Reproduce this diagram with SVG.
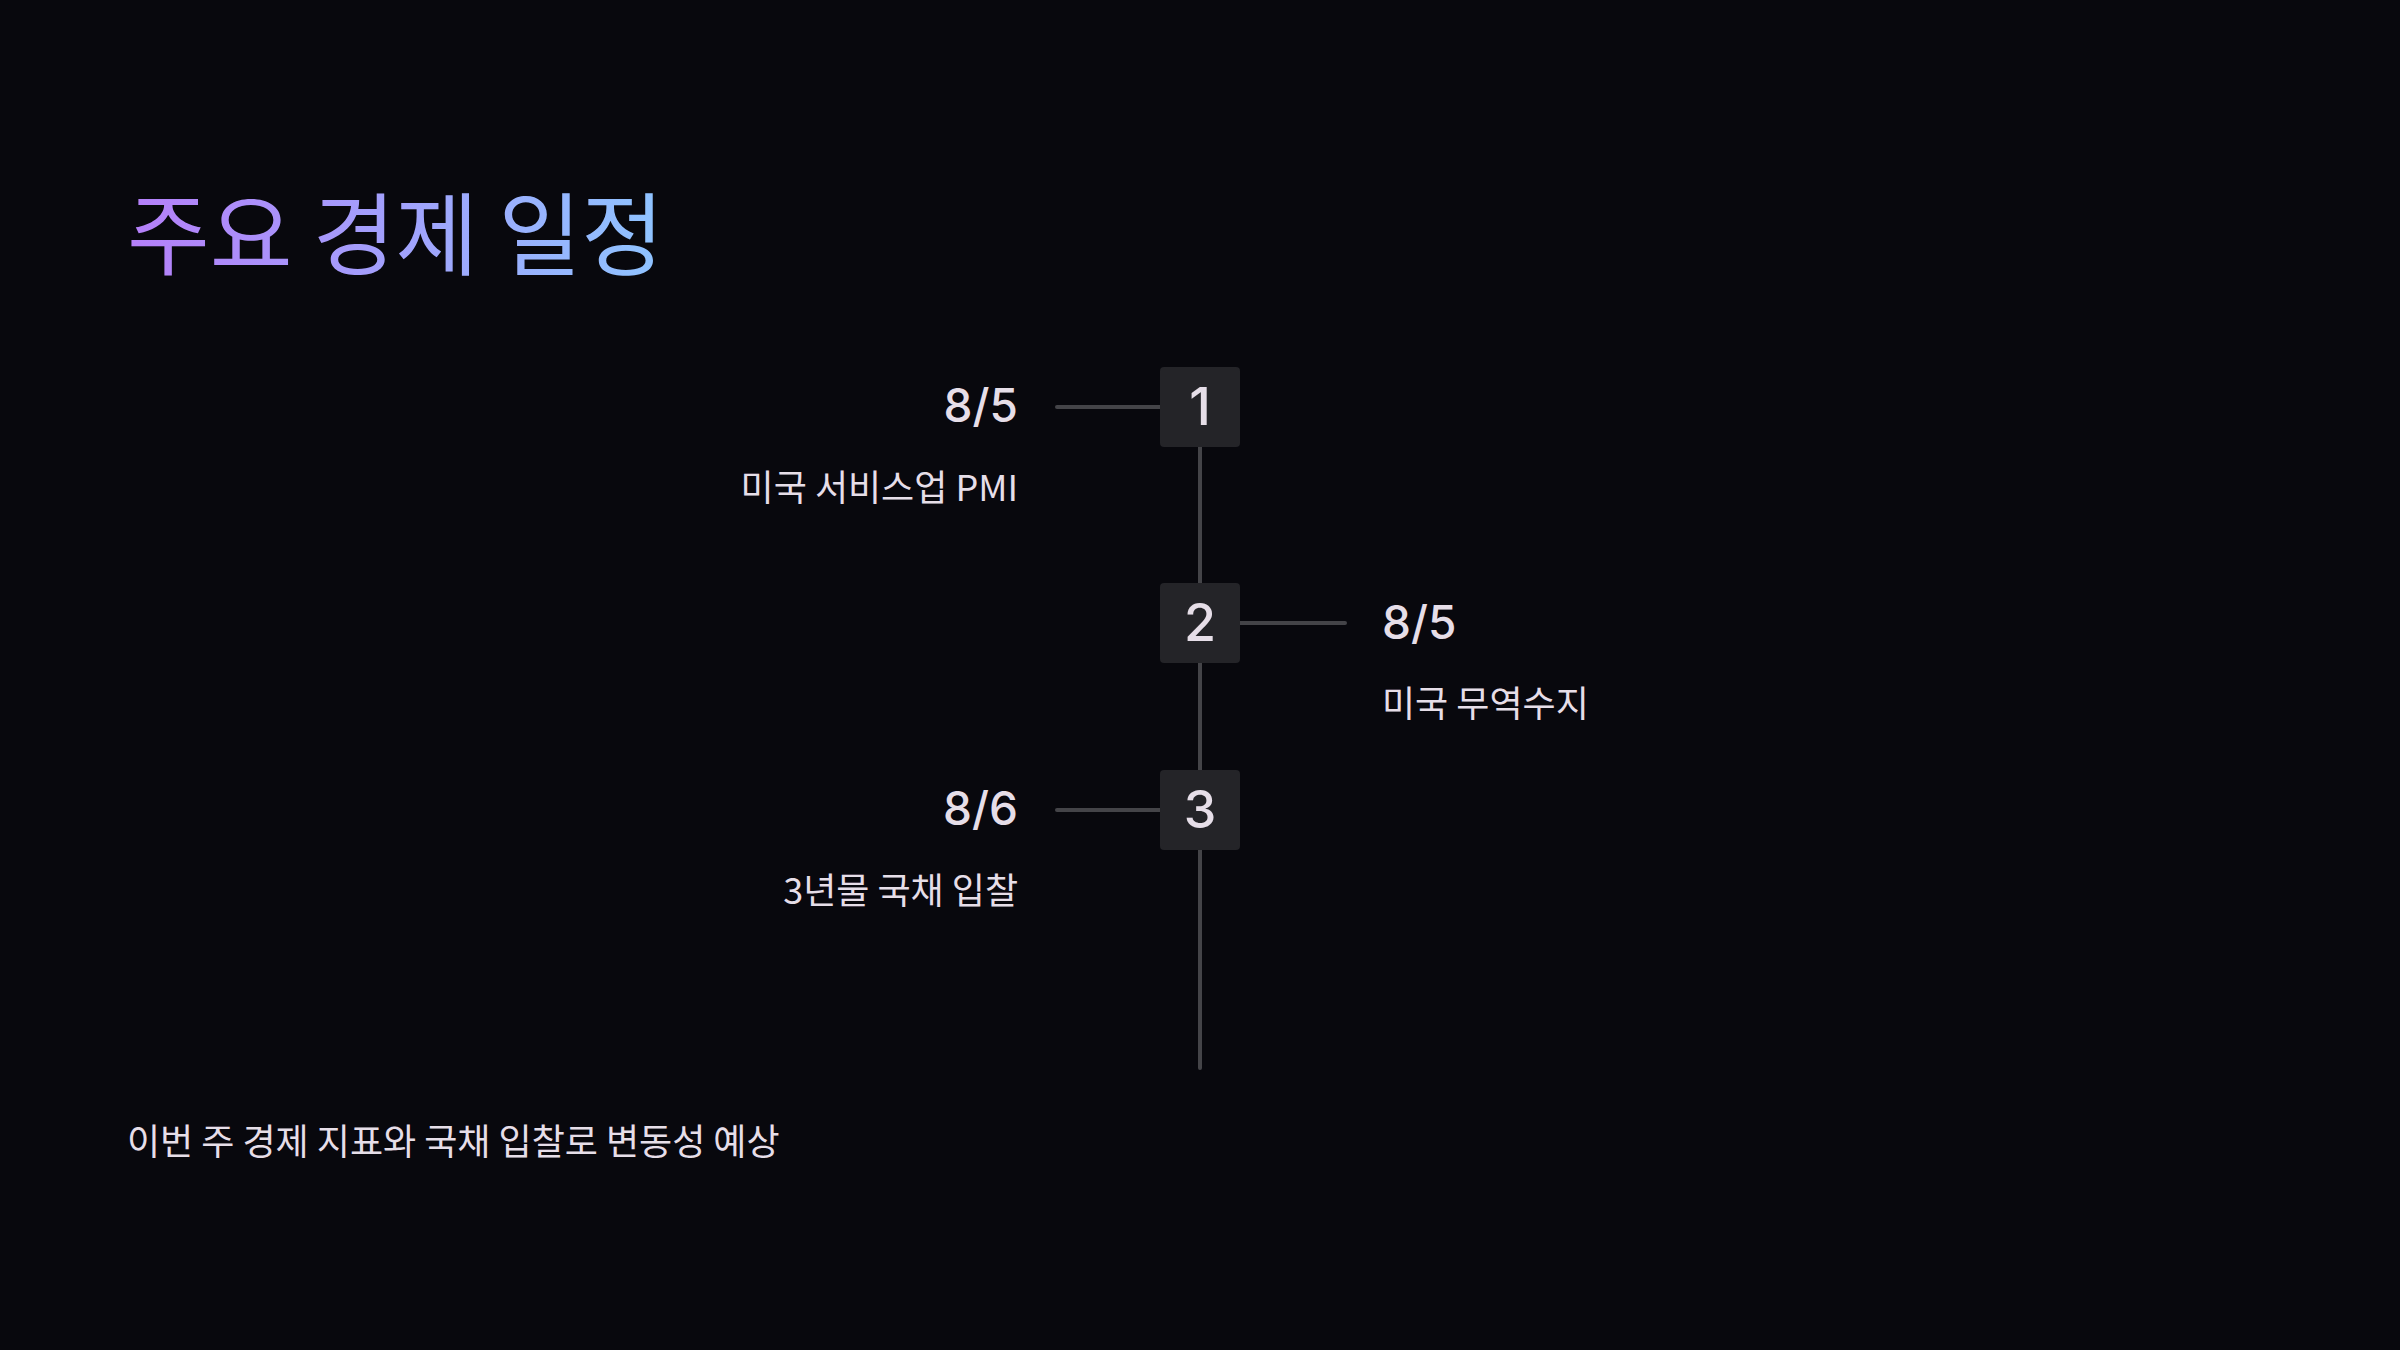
<svg xmlns="http://www.w3.org/2000/svg" width="2400" height="1350" viewBox="0 0 2400 1350">
<defs>
<linearGradient id="tg" x1="127" y1="0" x2="658" y2="0" gradientUnits="userSpaceOnUse">
<stop offset="0" stop-color="#b57ff9"/>
<stop offset="1" stop-color="#8fc3ff"/>
</linearGradient>
<style>
.kr{font-family:"Noto Sans CJK KR","Noto Sans",sans-serif;fill:#e6dee8;font-size:36px}
.date{font-family:Inter,"Noto Sans",sans-serif;fill:#e6dee8;font-size:46px;font-weight:500}
.num{font-family:Inter,"Noto Sans",sans-serif;fill:#e6dee8;font-size:52px;font-weight:500;text-anchor:middle}
.box{fill:#242428}
.ln{stroke:#444448;stroke-width:4;stroke-linecap:round;fill:none}
</style>
</defs>
<rect width="2400" height="1350" fill="#08080d"/>
<text x="127" y="268" font-family="Noto Sans CJK KR, sans-serif" font-size="90" fill="url(#tg)">주요 경제 일정</text>
<g id="connectors">
<line class="ln" x1="1200" y1="407" x2="1200" y2="1068"/>
<line class="ln" x1="1057" y1="407" x2="1160" y2="407"/>
<line class="ln" x1="1240" y1="623" x2="1345" y2="623"/>
<line class="ln" x1="1057" y1="810" x2="1160" y2="810"/>
</g>
<g id="node1">
<rect class="box" x="1160" y="367" width="80" height="80" rx="4"/>
<text class="num" x="1200" y="425">1</text>
<text class="date" x="1018" y="422" text-anchor="end">8/5</text>
<text class="kr" x="1018" y="501" text-anchor="end">미국 서비스업 PMI</text>
</g>
<g id="node2">
<rect class="box" x="1160" y="583" width="80" height="80" rx="4"/>
<text class="num" x="1200" y="641">2</text>
<text class="date" x="1382" y="639">8/5</text>
<text class="kr" x="1382" y="717">미국 무역수지</text>
</g>
<g id="node3">
<rect class="box" x="1160" y="770" width="80" height="80" rx="4"/>
<text class="num" x="1200" y="828">3</text>
<text class="date" x="1018" y="825" text-anchor="end">8/6</text>
<text class="kr" x="1018" y="904" text-anchor="end">3년물 국채 입찰</text>
</g>
<text class="kr" x="127" y="1155">이번 주 경제 지표와 국채 입찰로 변동성 예상</text>
</svg>
